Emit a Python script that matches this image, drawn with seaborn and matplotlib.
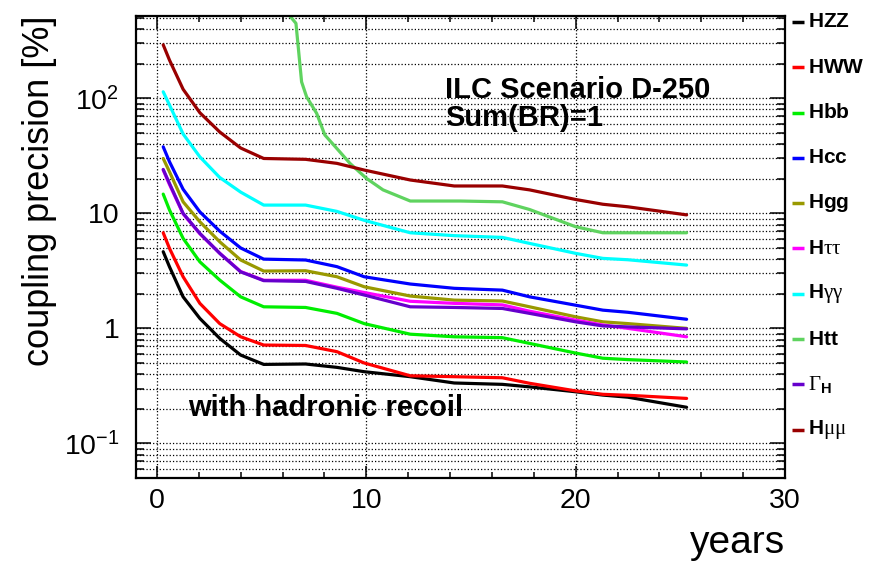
import numpy as np
import pandas as pd
import matplotlib
matplotlib.use("Agg")
import matplotlib.pyplot as plt
import matplotlib.ticker as mticker
import seaborn as sns

# common time grid (years) for most couplings
years = [0.3, 0.6, 1.25, 2.05, 3.0, 4.0, 5.1, 7.1, 8.6, 9.9, 12.1, 14.2, 16.5, 17.8, 20.0, 21.3, 22.5, 25.3]

hzz = [4.64, 3.43, 1.88, 1.22, 0.818, 0.586, 0.486, 0.49, 0.458, 0.42, 0.38, 0.335, 0.326, 0.31, 0.281, 0.263, 0.252, 0.206]
hww = [6.78, 4.96, 2.81, 1.65, 1.1, 0.845, 0.716, 0.71, 0.627, 0.50, 0.387, 0.38, 0.372, 0.333, 0.286, 0.267, 0.262, 0.246]
hbb = [14.7, 10.7, 6.06, 3.79, 2.63, 1.88, 1.54, 1.52, 1.35, 1.1, 0.89, 0.845, 0.83, 0.74, 0.61, 0.55, 0.535, 0.51]
hcc = [37.9, 28.1, 16.2, 10.3, 7.0, 5.0, 4.0, 3.93, 3.44, 2.81, 2.43, 2.23, 2.15, 1.88, 1.59, 1.44, 1.38, 1.2]
hgg = [30.0, 23.0, 12.6, 8.45, 5.66, 3.93, 3.15, 3.17, 2.81, 2.3, 1.91, 1.76, 1.73, 1.54, 1.26, 1.14, 1.1, 1.0]
htautau = [23.8, 17.8, 9.9, 6.65, 4.5, 3.12, 2.62, 2.62, 2.28, 2.05, 1.72, 1.65, 1.6, 1.41, 1.18, 1.07, 1.0, 0.845]
hgamgam = [114.0, 87.5, 49.0, 31.0, 20.5, 15.3, 11.8, 11.8, 10.4, 8.7, 6.78, 6.4, 6.18, 5.48, 4.49, 4.06, 3.95, 3.55]
gammah = [24.1, 18.2, 10.0, 6.7, 4.49, 3.1, 2.6, 2.56, 2.23, 1.95, 1.54, 1.52, 1.49, 1.35, 1.14, 1.05, 1.03, 0.99]
hmumu = [292.0, 215.0, 120.0, 75.0, 51.0, 37.0, 30.0, 29.5, 27.2, 23.8, 19.5, 17.3, 17.3, 16.0, 13.2, 12.0, 11.4, 9.7]

# top-Yukawa starts later (enters from above the frame)
years_htt = [6.35, 6.64, 6.91, 7.15, 7.63, 8.02, 8.66, 9.22, 10.0, 10.8, 12.1, 14.5, 16.5, 17.8, 20.0, 21.3, 25.3]
htt = [520.0, 449.0, 139.0, 103.0, 74.0, 48.0, 35.5, 27.2, 20.2, 16.0, 12.8, 12.8, 12.6, 10.8, 7.65, 6.78, 6.78]

order = ["HZZ", "HWW", "Hbb", "Hcc", "Hgg", "Htautau", "Hgamgam", "Htt", "GammaH", "Hmumu"]
labels = {
    "HZZ": r"$\mathbf{HZZ}$",
    "HWW": r"$\mathbf{HWW}$",
    "Hbb": r"$\mathbf{Hbb}$",
    "Hcc": r"$\mathbf{Hcc}$",
    "Hgg": r"$\mathbf{Hgg}$",
    "Htautau": r"$\mathbf{H}\mathrm{\tau\tau}$",
    "Hgamgam": r"$\mathbf{H}\mathrm{\gamma\gamma}$",
    "Htt": r"$\mathbf{Htt}$",
    "GammaH": r"$\mathrm{\Gamma}_{\mathbf{H}}$",
    "Hmumu": r"$\mathbf{H}\mathrm{\mu\mu}$",
}
colors = {
    "HZZ": "#000000", "HWW": "#ff0000", "Hbb": "#00ee00", "Hcc": "#0000ff",
    "Hgg": "#999900", "Htautau": "#ff00ff", "Hgamgam": "#00ffff",
    "Htt": "#5fd35f", "GammaH": "#6600cc", "Hmumu": "#990000",
}

series = {"HZZ": hzz, "HWW": hww, "Hbb": hbb, "Hcc": hcc, "Hgg": hgg,
          "Htautau": htautau, "Hgamgam": hgamgam, "GammaH": gammah, "Hmumu": hmumu}
frames = [pd.DataFrame({"year": years, "precision": v, "coupling": k}) for k, v in series.items()]
frames.append(pd.DataFrame({"year": years_htt, "precision": htt, "coupling": "Htt"}))
df = pd.concat(frames, ignore_index=True)

sns.set_style("ticks")
plt.rcParams["font.family"] = ["Liberation Sans", "DejaVu Sans"]
plt.rcParams["mathtext.fontset"] = "custom"
plt.rcParams["mathtext.rm"] = "Liberation Serif"
plt.rcParams["mathtext.bf"] = "Liberation Sans:bold"
plt.rcParams["mathtext.it"] = "Liberation Serif:italic"
for k in ["text.color", "axes.labelcolor", "xtick.color", "ytick.color", "axes.edgecolor"]:
    plt.rcParams[k] = "black"

fig = plt.figure(figsize=(8.86, 5.71), dpi=100)
ax = fig.add_axes([136 / 886, 93 / 571, 649 / 886, 462 / 571])

sns.lineplot(data=df, x="year", y="precision", hue="coupling", hue_order=order,
             palette=colors, estimator=None, sort=False, legend=False,
             linewidth=2.3, ax=ax)

ax.set_yscale("log")
ax.set_xlim(-1, 30)
ax.set_ylim(0.05, 520)

ax.xaxis.set_major_locator(mticker.MultipleLocator(10))
ax.xaxis.set_minor_locator(mticker.MultipleLocator(2))
ax.yaxis.set_major_locator(mticker.FixedLocator([0.1, 1, 10, 100]))
ax.yaxis.set_major_formatter(mticker.FixedFormatter(
    [r"$\mathdefault{10^{-1}}$", "1", "10", r"$\mathdefault{10^{2}}$"]))
ax.yaxis.set_minor_locator(mticker.LogLocator(base=10, subs=np.arange(2, 10)))
ax.yaxis.set_minor_formatter(mticker.NullFormatter())

ax.grid(which="major", axis="x", color="black", linestyle=":", linewidth=0.9)
ax.grid(which="both", axis="y", color="black", linestyle=":", linewidth=0.9)

ax.tick_params(axis="both", which="both", direction="in", top=True, right=True,
               colors="black", width=1.1)
ax.tick_params(axis="x", which="major", length=9, pad=7, labelsize=20.5)
ax.tick_params(axis="x", which="minor", length=4.5)
ax.tick_params(axis="y", which="major", length=11, pad=12, labelsize=20.5)
ax.tick_params(axis="y", which="minor", length=6)
for sp in ax.spines.values():
    sp.set_linewidth(1.6)
    sp.set_color("black")

ax.set_xlabel("years", fontsize=28, loc="right", labelpad=8)
ax.set_ylabel("coupling precision [%]", fontsize=26, loc="top", labelpad=5)

ax.text(0.476, 0.8225, "ILC Scenario D-250", transform=ax.transAxes,
        fontsize=21, fontweight="bold", va="baseline", ha="left")
ax.text(0.476, 0.762, "Sum(BR)=1", transform=ax.transAxes,
        fontsize=21, fontweight="bold", va="baseline", ha="left")
ax.text(0.0806, 0.134, "with hadronic recoil", transform=ax.transAxes,
        fontsize=21, fontweight="bold", va="baseline", ha="left")

# legend column on the right, outside the frame
for i, key in enumerate(order):
    yy = 1 - (6 + 45.3 * i) / 462
    ax.plot([1.0108, 1.0293], [yy, yy], transform=ax.transAxes, color=colors[key],
            linewidth=2.5, clip_on=False, solid_capstyle="butt")
    ax.text(1.0354, yy, labels[key], transform=ax.transAxes, fontsize=15,
            va="center", ha="left")

fig.savefig("out.png", dpi=100)
